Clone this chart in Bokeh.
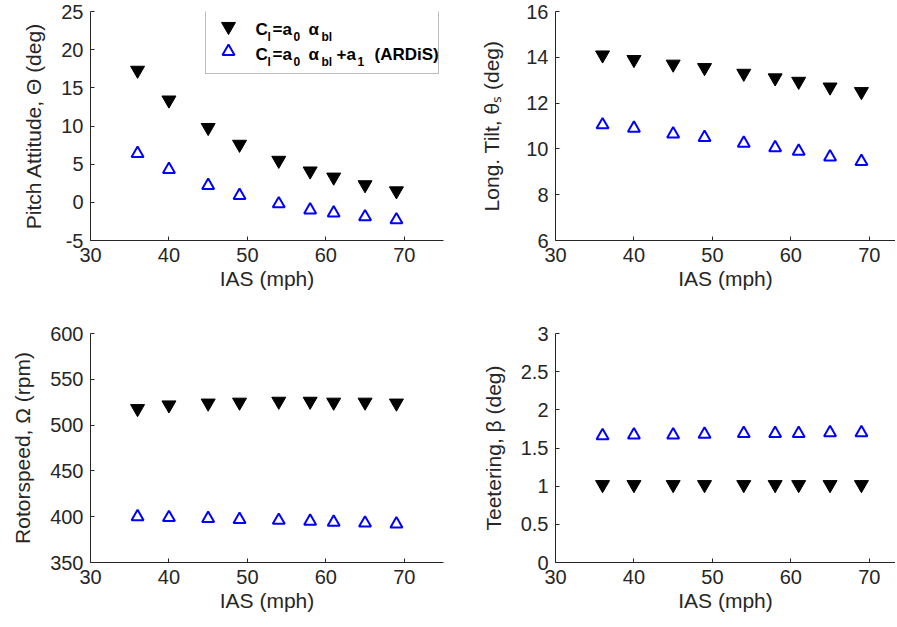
from bokeh.plotting import figure
from bokeh.layouts import row, column
from bokeh.models import Range1d, FixedTicker, Label, BoxAnnotation, CustomJSTickFormatter
from bokeh.embed import file_html
from bokeh.resources import INLINE

# ---- data ----
ias = [36, 40, 45, 49, 54, 58, 61, 65, 69]
pitch_cl = [17.3, 13.4, 9.8, 7.6, 5.5, 4.1, 3.3, 2.3, 1.5]
pitch_ardis = [6.4, 4.3, 2.2, 0.9, -0.2, -1.0, -1.4, -1.9, -2.3]
tilt_cl = [14.1, 13.9, 13.7, 13.55, 13.3, 13.1, 12.95, 12.7, 12.5]
tilt_ardis = [11.05, 10.9, 10.65, 10.5, 10.25, 10.05, 9.9, 9.65, 9.45]
rpm_cl = [518, 522, 524, 525, 526, 526, 525, 525, 524]
rpm_ardis = [400, 399, 398, 397, 396, 395, 394, 393, 392]
teeter_cl = [1.02, 1.02, 1.02, 1.02, 1.02, 1.02, 1.02, 1.02, 1.02]
teeter_ardis = [1.66, 1.67, 1.67, 1.68, 1.69, 1.69, 1.69, 1.70, 1.70]

x_ticks = [30, 40, 50, 60, 70]
pitch_ticks = [-5, 0, 5, 10, 15, 20, 25]
tilt_ticks = [6, 8, 10, 12, 14, 16]
rpm_ticks = [350, 400, 450, 500, 550, 600]
teeter_ticks = [0, 0.5, 1, 1.5, 2, 2.5, 3]

x_label = "IAS (mph)"
pitch_label = "Pitch Attitude, \u0398 (deg)"
tilt_label = "Long. Tilt, \u03b8\u209b (deg)"
rpm_label = "Rotorspeed, \u03a9 (rpm)"
teeter_label = "Teetering, \u03b2 (deg)"

AX = "#262626"
FONT = "Liberation Sans"
FRAME_H = 229
LEFT_W = 353
RIGHT_W = 340
PX_PER_X = LEFT_W / 45.0


def make_fig(xend, frame_w, yr, yticks, ylabel, bl, br, bt, bb, ystand):
    p = figure(frame_width=frame_w, frame_height=FRAME_H,
               x_range=Range1d(30, xend), y_range=Range1d(*yr),
               output_backend="svg", toolbar_location=None,
               min_border_left=bl, min_border_right=br,
               min_border_top=bt, min_border_bottom=bb)
    p.grid.visible = False
    p.outline_line_color = None
    p.background_fill_color = "white"
    p.border_fill_color = "white"
    p.xaxis.ticker = FixedTicker(ticks=x_ticks)
    p.yaxis.ticker = FixedTicker(ticks=yticks)
    p.yaxis.formatter = CustomJSTickFormatter(code="return tick.toString();")
    p.xaxis.formatter = CustomJSTickFormatter(code="return tick.toString();")
    for ax in (p.xaxis[0], p.yaxis[0]):
        ax.major_tick_in = 4
        ax.major_tick_out = 0
        ax.minor_tick_in = 0
        ax.minor_tick_out = 0
        ax.axis_line_color = AX
        ax.major_tick_line_color = AX
        ax.major_label_text_font = FONT
        ax.major_label_text_font_size = "20px"
        ax.major_label_text_color = AX
        ax.axis_label_text_font = FONT
        ax.axis_label_text_font_size = "21px"
        ax.axis_label_text_font_style = "normal"
        ax.axis_label_text_color = AX
        ax.major_label_standoff = 7
    p.xaxis.axis_label = x_label
    p.xaxis.axis_label_standoff = 2
    p.yaxis.axis_label = ylabel
    p.yaxis.axis_label_standoff = ystand
    return p


def add_series(p, ycl, yar):
    p.scatter(ias, ycl, marker="inverted_triangle", size=14,
              fill_color="black", line_color="black")
    p.scatter(ias, yar, marker="triangle", size=12, fill_color=None,
              line_color="#0000ff", line_width=2)


XR_RIGHT = 30 + RIGHT_W / PX_PER_X
f1 = make_fig(75, LEFT_W, (-5, 25), pitch_ticks, pitch_label, 90, 10, 11, 60, 13)
add_series(f1, pitch_cl, pitch_ardis)
f2 = make_fig(XR_RIGHT, RIGHT_W, (6, 16), tilt_ticks, tilt_label, 102, 0, 11, 60, 20)
add_series(f2, tilt_cl, tilt_ardis)
f3 = make_fig(75, LEFT_W, (350, 600), rpm_ticks, rpm_label, 90, 10, 33, 55, 13)
add_series(f3, rpm_cl, rpm_ardis)
f4 = make_fig(XR_RIGHT, RIGHT_W, (0, 3), teeter_ticks, teeter_label, 102, 0, 33, 55, 13)
add_series(f4, teeter_cl, teeter_ardis)

# ---- legend (layout in page pixels, converted to f1 data space) ----
FRAME_LEFT_PX = 90
FRAME_TOP_PX = 11
PX_PER_Y = FRAME_H / 30.0


def dx(px):
    return 30 + (px - FRAME_LEFT_PX) / PX_PER_X


def dy(py):
    return 25 - (py - FRAME_TOP_PX) / PX_PER_Y


f1.add_layout(BoxAnnotation(left=dx(205), right=dx(438), top=dy(5), bottom=dy(73),
                            fill_color="white", fill_alpha=1.0,
                            line_color=AX, line_width=1, level="underlay"))

f1.scatter([dx(228)], [dy(26)], marker="inverted_triangle", size=14,
           fill_color="black", line_color="black")
f1.scatter([dx(228)], [dy(51)], marker="triangle", size=12, fill_color=None,
           line_color="#0000ff", line_width=2)


def piece(txt, px, py, size):
    f1.add_layout(Label(x=dx(px), y=dy(py), text=txt, text_font=FONT,
                        text_font_size=size, text_font_style="bold",
                        text_color="black", text_baseline="alphabetic",
                        text_align="left"))


for base, extra in ((29, False), (54, True)):
    sub = base + 7
    piece("C", 255, base, "17px")
    piece("l", 267, sub, "12px")
    piece("=a", 272, base, "17px")
    piece("0", 293, sub, "12px")
    piece("\u03b1", 308, base, "17px")
    piece("bl", 321, sub, "12px")
    if extra:
        piece("+a", 336, base, "17px")
        piece("1", 357, sub, "12px")
        piece("(ARDiS)", 374, base, "17px")

layout = column(row(f1, f2), row(f3, f4))
open("out.html", "w").write(file_html(layout, INLINE))
